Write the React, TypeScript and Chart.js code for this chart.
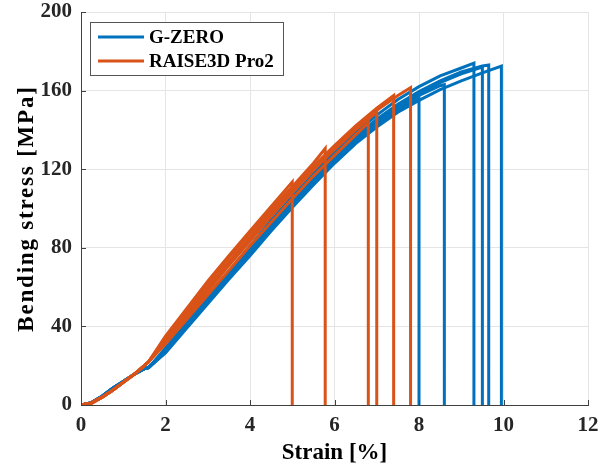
import React, { useEffect, useRef } from "react";
import { Chart, registerables } from "chart.js";

Chart.register(...registerables);

// ---- data ----
const xTicks = [0, 2, 4, 6, 8, 10, 12];
const yTicks = [0, 40, 80, 120, 160, 200];

const xTitle = "Strain [%]";
const yTitle = "Bending stress [MPa]";
const legendLabels = ["G-ZERO", "RAISE3D Pro2"];
const blueColor = "#0072BD";
const orangeColor = "#D95319";

// toe region (shared grid)
const toeStrain = [0, 0.25, 0.5, 0.75, 1, 1.25, 1.5, 1.6];
const blueToe = [0, 1.2, 4.5, 8.5, 12, 15.5, 18.5, 19];
const orangeToe = [0, 1, 4, 7.5, 11.5, 15.5, 20, 22];

// main region grid
const mainStrain = [2, 2.5, 3, 3.5, 4, 4.5, 5, 5.5, 6, 6.5, 7, 7.5, 8, 8.5, 9, 9.5];

// G-ZERO specimens
const blueA = [29, 42, 55, 68, 81, 94, 106, 117.5, 128.5, 138.5, 147.5, 155.5, 162, 167.5, 171.5];
const blueB = [27.5, 40, 53, 66, 78.5, 91, 103, 114.5, 125.5, 135.5, 144.5, 152, 158.5, 164, 168.5];
const blueC = [28, 40.5, 53.5, 66.5, 79, 92, 104, 115.5, 126.5, 136.5, 145.5, 153, 159.5, 165, 169.5, 172.5];
const blueD = [26.5, 39, 51.5, 64, 76, 88.5, 100.5, 112, 123, 133, 141.5, 149, 155, 160.5, 165, 169];
const blueE = [27, 39.5, 52.5, 65, 77.5, 90, 102, 113.5, 124.5, 134.5, 143.5, 151, 157.5, 162.5];
const blueF = [27, 39.5, 52, 64.5, 77, 89.5, 101.5, 113, 124, 134, 142.5, 150];
const blueFailStrain = [9.3, 9.5, 9.65, 9.95, 8.6, 8.0];
const blueFailStress = [174, 172, 173, 172.5, 163, 156];

// RAISE3D Pro2 specimens
const orange1 = [35, 49, 63, 76, 88.5, 101];
const orange2 = [34.5, 48, 62, 75, 87.5, 99.5, 111, 123];
const orange3 = [31, 43.5, 56, 68.5, 81, 93, 105, 116.5, 127, 137.5];
const orange4 = [32, 45, 58, 71, 83.5, 96, 108, 119.5, 130, 140];
const orange5 = [33, 46.5, 60, 73, 85.5, 98, 110, 121.5, 132, 142, 151];
const orange6 = [32.5, 46, 59, 72, 84.5, 97, 109, 120.5, 131, 141, 150, 157.5];
const orangeFailStrain = [5.0, 5.78, 6.8, 7.0, 7.4, 7.8];
const orangeFailStress = [113.5, 130.5, 143.5, 149, 157.5, 161.5];

const blueCurves = [blueA, blueB, blueC, blueD, blueE, blueF];
const orangeCurves = [orange1, orange2, orange3, orange4, orange5, orange6];

function buildPoints(toe: number[], main: number[], failX: number, failY: number) {
  const pts: { x: number; y: number }[] = [];
  toeStrain.forEach((s, i) => pts.push({ x: s, y: toe[i] }));
  main.forEach((v, i) => pts.push({ x: mainStrain[i], y: v }));
  pts.push({ x: failX, y: failY });
  pts.push({ x: failX, y: 0 });
  return pts;
}

const FONT = "'Liberation Serif', 'Times New Roman', serif";

const overlayPlugin = {
  id: "customLegendTicks",
  afterDraw(chart: any) {
    const { ctx, chartArea, scales } = chart;
    ctx.save();
    // inward tick marks
    ctx.strokeStyle = "#404040";
    ctx.lineWidth = 1;
    xTicks.forEach((t) => {
      const px = Math.round(scales.x.getPixelForValue(t)) + 0.5;
      ctx.beginPath();
      ctx.moveTo(px, chartArea.bottom);
      ctx.lineTo(px, chartArea.bottom - 5);
      ctx.stroke();
    });
    yTicks.forEach((t) => {
      const py = Math.round(scales.y.getPixelForValue(t)) + 0.5;
      ctx.beginPath();
      ctx.moveTo(chartArea.left, py);
      ctx.lineTo(chartArea.left + 5, py);
      ctx.stroke();
    });
    // y title with a little letter spacing
    ctx.save();
    ctx.translate(27, (chartArea.top + chartArea.bottom) / 2);
    ctx.rotate(-Math.PI / 2);
    ctx.font = `bold 23px ${FONT}`;
    try {
      (ctx as any).letterSpacing = "1.8px";
    } catch (e) {}
    ctx.fillStyle = "#000000";
    ctx.textAlign = "center";
    ctx.textBaseline = "middle";
    ctx.fillText(yTitle, 0, 0);
    try {
      (ctx as any).letterSpacing = "0px";
    } catch (e) {}
    ctx.restore();
    // legend box
    const bx = 90.5, by = 22.5, bw = 193, bh = 53;
    ctx.fillStyle = "#ffffff";
    ctx.fillRect(bx, by, bw, bh);
    ctx.strokeStyle = "#555555";
    ctx.lineWidth = 1;
    ctx.strokeRect(bx, by, bw, bh);
    const colors = [blueColor, orangeColor];
    const rows = [37, 61];
    ctx.font = `bold 19px ${FONT}`;
    ctx.textBaseline = "middle";
    ctx.textAlign = "left";
    legendLabels.forEach((lab, i) => {
      ctx.strokeStyle = colors[i];
      ctx.lineWidth = 3;
      ctx.beginPath();
      ctx.moveTo(98, rows[i]);
      ctx.lineTo(144, rows[i]);
      ctx.stroke();
      ctx.fillStyle = "#000000";
      ctx.fillText(lab, 149, rows[i] + 1);
    });
    ctx.restore();
  },
};

export default function App() {
  const ref = useRef<HTMLCanvasElement | null>(null);
  useEffect(() => {
    if (!ref.current) return;
    const datasets: any[] = [];
    orangeCurves.forEach((c, i) => {
      datasets.push({
        label: legendLabels[1],
        data: buildPoints(orangeToe, c, orangeFailStrain[i], orangeFailStress[i]),
        borderColor: orangeColor,
        backgroundColor: orangeColor,
        borderWidth: 3,
        pointRadius: 0,
        tension: 0,
        fill: false,
      });
    });
    blueCurves.forEach((c, i) => {
      datasets.push({
        label: legendLabels[0],
        data: buildPoints(blueToe, c, blueFailStrain[i], blueFailStress[i]),
        borderColor: blueColor,
        backgroundColor: blueColor,
        borderWidth: 3,
        pointRadius: 0,
        tension: 0,
        fill: false,
      });
    });
    const chart = new Chart(ref.current, {
      type: "line",
      data: { datasets },
      options: {
        animation: false,
        responsive: false,
        devicePixelRatio: 1,
        layout: { padding: { top: 12, right: 23, left: 0, bottom: 0 } },
        plugins: {
          legend: { display: false },
          tooltip: { enabled: false },
        },
        scales: {
          x: {
            type: "linear",
            min: 0,
            max: 12,
            afterFit: (s: any) => {
              s.height = 64;
              s.paddingLeft = 0;
              s.paddingRight = 0;
            },
            afterBuildTicks: (s: any) => {
              s.ticks = xTicks.map((v) => ({ value: v }));
            },
            ticks: {
              color: "#262626",
              font: { family: FONT, size: 21, weight: "bold" },
              padding: 8,
              maxRotation: 0,
            },
            grid: { color: "#e5e5e5", lineWidth: 1, drawTicks: false },
            border: { display: true, color: "#404040", width: 1 },
            title: {
              display: true,
              text: xTitle,
              color: "#000000",
              font: { family: FONT, size: 23, weight: "bold" },
              padding: { top: 0, bottom: 2 },
            },
          },
          y: {
            type: "linear",
            min: 0,
            max: 200,
            afterFit: (s: any) => {
              s.width = 81;
              s.paddingTop = 0;
              s.paddingBottom = 0;
            },
            afterBuildTicks: (s: any) => {
              s.ticks = yTicks.map((v) => ({ value: v }));
            },
            ticks: {
              color: "#262626",
              font: { family: FONT, size: 21, weight: "bold" },
              padding: 9,
            },
            grid: { color: "#e5e5e5", lineWidth: 1, drawTicks: false },
            border: { display: true, color: "#404040", width: 1 },
            title: { display: false },
          },
        },
      },
      plugins: [overlayPlugin],
    });
    return () => chart.destroy();
  }, []);
  return (
    <div style={{ position: "absolute", left: 0, top: 0, width: 611, height: 469, background: "#fff" }}>
      <canvas ref={ref} width={611} height={469} style={{ display: "block" }} />
    </div>
  );
}
